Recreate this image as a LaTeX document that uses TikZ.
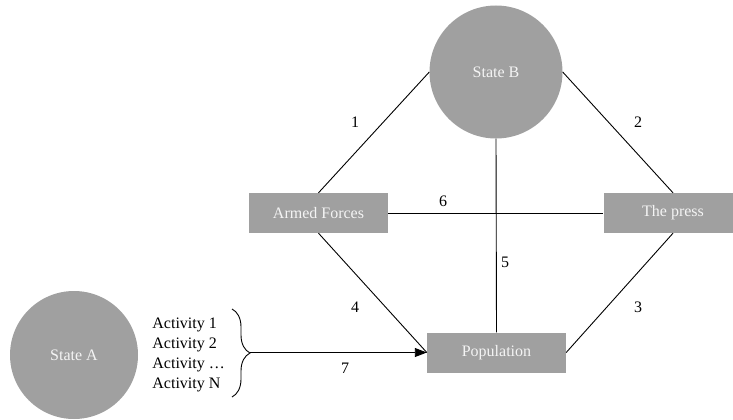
\documentclass[tikz,border=0pt]{standalone}
\usepackage{fontspec}
\setmainfont{Liberation Serif}
\usetikzlibrary{arrows.meta,positioning,decorations.pathreplacing}
\definecolor{boxgray}{HTML}{A0A0A0}
\definecolor{boxtext}{HTML}{F4F4F4}
\tikzset{
	% standard arrow tip
	>={Triangle[length=12pt,width=9pt]},
	% state circle
	state/.style={
		circle,
		fill=boxgray,
		text=boxtext,
		minimum size=133pt,
		inner sep=0pt
	},
	% actor box
	actor/.style={
		rectangle,
		fill=boxgray,
		text=boxtext,
		minimum width=139pt,
		minimum height=40pt,
		inner sep=0pt
	},
	% link style
	link/.style={
		line width=0.9pt,
		draw=black
	}
}

\begin{document}
\begin{tikzpicture}[x=1pt, y=-1pt, font=\fontsize{16}{20}\selectfont]
	\useasboundingbox (0,0) rectangle (733,420);

	\node[state] (stateB) at (496,72) {State B};
	\node[actor] (armed) at (318.5,213) {Armed Forces};
	\node[actor] (press) at (673,213) {The press};
	\node[actor] (population) at (496.5,352.5) {Population};
	\node[state,minimum size=128pt] (stateA) at (74,355) {State A};
	\node[align=left,inner sep=0pt,right=14pt of stateA] (activities)
		{Activity 1\\Activity 2\\Activity …\\Activity N};

	\coordinate (bracetop) at (232,309);
	\coordinate (bracebot) at (232,397);
	\coordinate (bracetip) at (250,352.5);

	\draw[link] (armed.north) -- (stateB.west);
	\draw[link] (stateB.east) -- (press.north);
	\draw[link] (press.south) -- (population.east);
	\draw[link] (armed.south) -- (population.west);
	\draw[link] (stateB.south) -- (population.north);
	\draw[link] (armed.east) -- (press.west);
	\draw[link,decorate,decoration={brace,amplitude=18pt}] (bracetop) -- (bracebot);
	\draw[link,->] (bracetip) -- (population.west);

	% link numbers
	\node (n1) at (355,122) {1};
	\node (n2) at (638,122) {2};
	\node (n3) at (638,307) {3};
	\node (n4) at (355,307) {4};
	\node (n5) at (505,262) {5};
	\node (n6) at (443,201) {6};
	\node (n7) at (345,368) {7};
\end{tikzpicture}
\end{document}
